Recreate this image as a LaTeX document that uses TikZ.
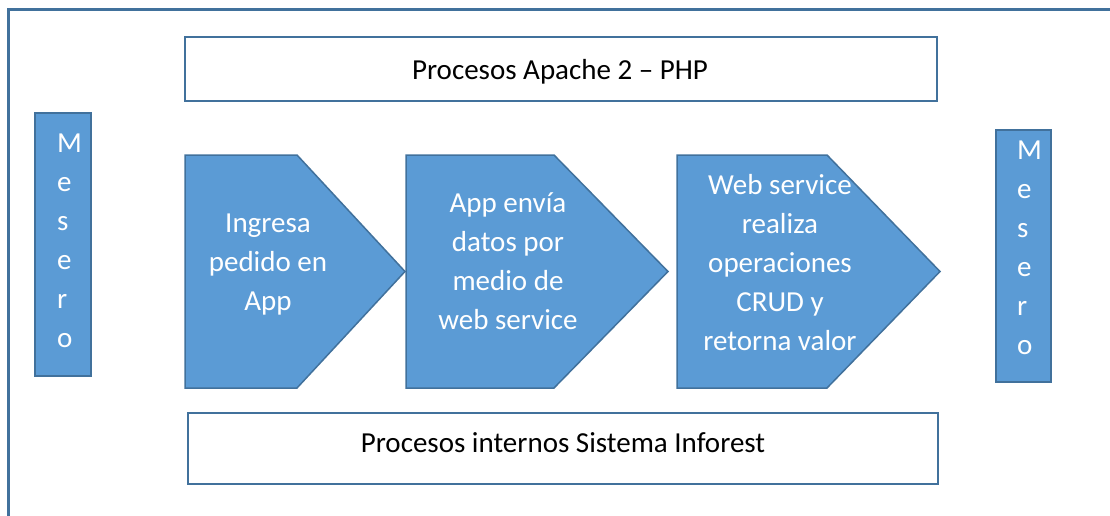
\documentclass[tikz,border=0pt]{standalone}
\usepackage{fontspec}
\setmainfont{Carlito}
\usetikzlibrary{calc}
\definecolor{PasoBlue}{HTML}{5B9BD5}
\definecolor{PasoEdge}{HTML}{41719C}
\newcommand{\textsize}{\fontsize{29}{39}\selectfont}
\tikzset{
  paso/.style={fill=PasoBlue,draw=PasoEdge,line width=1.5pt,line join=miter},
  caja/.style={draw=PasoEdge,line width=2.5pt,fill=white,inner sep=0pt},
  rotulo/.style={inner sep=0pt,font=\textsize},
  mesero/.style={fill=PasoBlue,draw=PasoEdge,line width=2pt,inner sep=0pt},
  texto/.style={white,align=center,inner sep=0pt,font=\textsize},
  letras/.style={white,align=left,inner sep=0pt,anchor=north west,font=\textsize}
}

\begin{document}
\begin{tikzpicture}[x=1pt,y=-1pt]
    \clip (0,0) rectangle (1110,516);

    % Frame
    \draw[PasoEdge,line width=3pt] (8.5,9.5) rectangle (1130,540);

    % Coordinates
    \path (185,155) coordinate (A1) (297,155) coordinate (B1)
      (405,271.5) coordinate (C1) (297,388) coordinate (D1) (185,388) coordinate (E1)
      (406,155) coordinate (A2) (554,155) coordinate (B2)
      (668,271.5) coordinate (C2) (554,388) coordinate (D2) (406,388) coordinate (E2)
      (677,155) coordinate (A3) (827,155) coordinate (B3)
      (940,271.5) coordinate (C3) (827,388) coordinate (D3) (677,388) coordinate (E3)
      ;

    % Steps
    \draw[paso] (A1) -- (B1) -- (C1) -- (D1) -- (E1) -- cycle;
    \draw[paso] (A2) -- (B2) -- (C2) -- (D2) -- (E2) -- cycle;
    \draw[paso] (A3) -- (B3) -- (C3) -- (D3) -- (E3) -- cycle;

    \node[texto] (t1) at (268,265) {Ingresa\\pedido en\\App};
    \node[texto] (t2) at (508,261) {App envía\\datos por\\medio de\\web service};
    \node[texto] (t3) at (780,263) {Web service\\realiza\\operaciones\\CRUD y\\retorna valor};

    % Process boxes
    \node[caja,minimum width=752pt,minimum height=64pt] (apache) at (561,69) {};
    \node[rotulo] (apacheTxt) at (560,72) {Procesos Apache 2 – PHP};
    \node[caja,minimum width=750pt,minimum height=71pt] (inforest) at (563,448.5) {};
    \node[rotulo] (inforestTxt) at (563,443) {Procesos internos Sistema Inforest};

    % Mesero
    \node[mesero,minimum width=56pt,minimum height=263pt] (meseroL) at (63,244.5) {};
    \node[mesero,minimum width=55pt,minimum height=252pt] (meseroR) at (1023,256) {};
    \node[letras] (letrasL) at (57,134) {M\\e\\s\\e\\r\\o};
    \node[letras] (letrasR) at (1017,141) {M\\e\\s\\e\\r\\o};

\end{tikzpicture}
\end{document}
